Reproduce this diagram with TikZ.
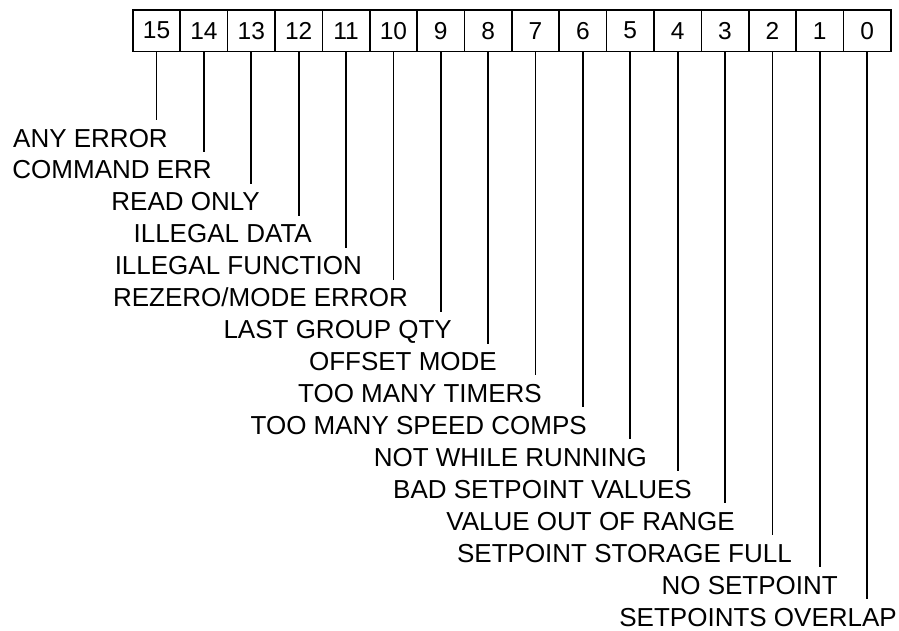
\documentclass[tikz,border=0pt]{standalone}
\usepackage{fontspec}
\setmainfont{Liberation Sans}
\begin{document}
\begin{tikzpicture}[x=1pt,y=-1pt,
  lbl/.style={anchor=base east, inner sep=0pt, font=\fontsize{26}{26}\selectfont},
  bitcell/.style={draw, line width=1.7pt, minimum width=47.375pt, minimum height=41.5pt, inner sep=0pt, font=\fontsize{24.5}{24.5}\selectfont, anchor=north west},
  wire/.style={line width=1.8pt}]
\useasboundingbox (0,0) rectangle (899,630);
\foreach \b in {0,...,15} {
  \pgfmathsetmacro\xx{132+(15-\b)*47.375}
  \node[bitcell] (c\b) at (\xx,9) {\b};
}
\node[lbl] (l15) at (168,147.0) {ANY ERROR};
\node[lbl] (l14) at (212,178.9) {COMMAND ERR};
\node[lbl] (l13) at (260,210.9) {READ ONLY};
\node[lbl] (l12) at (312,242.8) {ILLEGAL DATA};
\node[lbl] (l11) at (362,274.7) {ILLEGAL FUNCTION};
\node[lbl] (l10) at (408,306.7) {REZERO/MODE ERROR};
\node[lbl] (l9) at (452,338.6) {LAST GROUP QTY};
\node[lbl] (l8) at (497,370.5) {OFFSET MODE};
\node[lbl] (l7) at (542,402.4) {TOO MANY TIMERS};
\node[lbl] (l6) at (587,434.4) {TOO MANY SPEED COMPS};
\node[lbl] (l5) at (647,466.3) {NOT WHILE RUNNING};
\node[lbl] (l4) at (692,498.2) {BAD SETPOINT VALUES};
\node[lbl] (l3) at (735,530.2) {VALUE OUT OF RANGE};
\node[lbl] (l2) at (792,562.1) {SETPOINT STORAGE FULL};
\node[lbl] (l1) at (838,594.0) {NO SETPOINT};
\node[lbl] (l0) at (897,626.0) {SETPOINTS OVERLAP};
\foreach \b in {0,...,15} {
  \coordinate (e\b) at ([yshift=27pt]l\b.base);
  \draw[wire] (c\b.south) -- (c\b.south |- e\b);
}
\end{tikzpicture}
\end{document}
